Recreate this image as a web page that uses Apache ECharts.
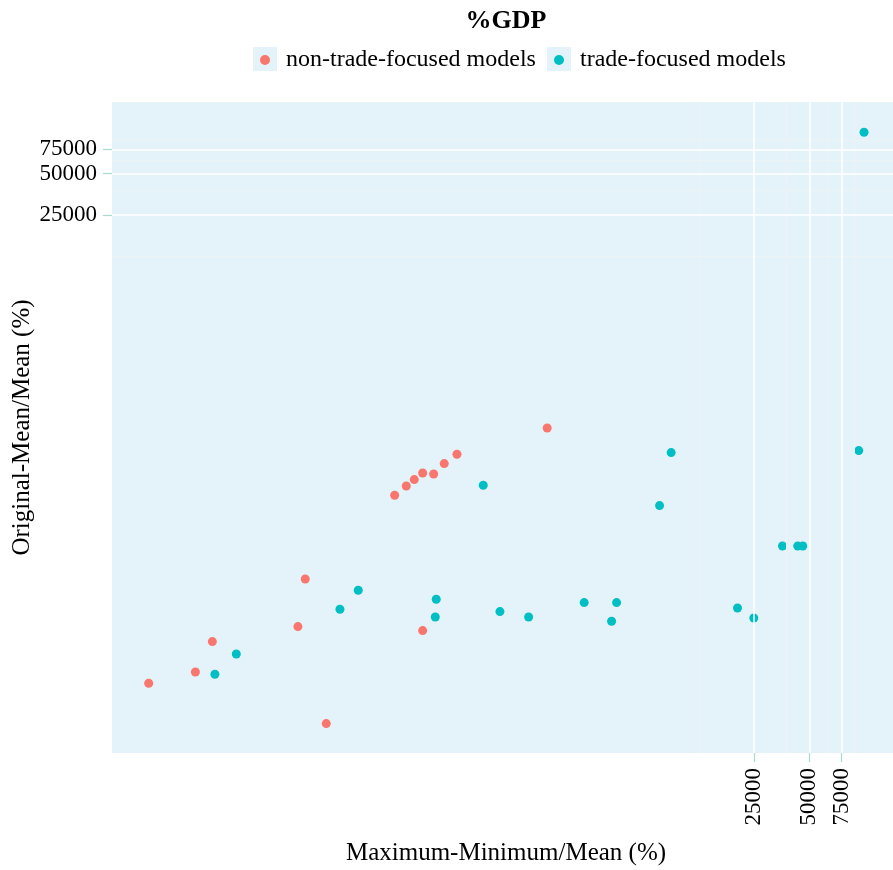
<!DOCTYPE html>
<html>
<head>
<meta charset="utf-8">
<title>%GDP</title>
<script src="https://cdn.jsdelivr.net/npm/echarts@6/dist/echarts.min.js"></script>
<style>
  html, body { margin: 0; padding: 0; background: #ffffff; }
  #chart { width: 893px; height: 870px; }
</style>
</head>
<body>
<div id="chart"></div>
<script>
// Series names
const seriesNames = ['non-trade-focused models', 'trade-focused models'];

// non-trade-focused models: x = (Maximum-Minimum)/Mean %, y = (Original-Mean)/Mean %
const nonTradeX = [12.4, 22.3, 27.6, 80.9, 88.7, 115.5, 272.9, 315.8, 349.2, 388.0, 445.5, 508.9, 597.1, 1856, 388.0];
const nonTradeY = [9.64, 11.65, 19.4, 24.96, 55.5, 4.90, 225.9, 264.1, 294.0, 328.5, 322.9, 384.6, 449.5, 698.8, 23.34];

// trade-focused models
const tradeX = [28.5, 37.3, 137.2, 172.7, 830.8, 460.3, 454.6, 1024.8, 1469.7, 2954, 4439, 4169, 7620, 8815, 20290, 24900, 35710, 43270, 46080, 93130, 99540];
const tradeY = [11.21, 15.76, 33.36, 45.9, 267.2, 39.47, 29.32, 32.10, 29.32, 37.34, 37.34, 27.28, 190.1, 462.5, 34.10, 28.83, 96.5, 96.5, 96.5, 478.3, 99800];

// Axis breaks (log-scaled axes) and in-between minor breaks
const majorBreaks = [25000, 50000, 75000];
const minorBreaks = [12500, 37500, 62500, 87500];

// Axis limits
const xLimits = [7.82, 156400];
const yLimits = [2.993, 165900];

const FONT = 'Liberation Serif';
const RED = '#F8766D';
const TEAL = '#00BFC4';
const PANEL = '#E4F3F9';
const TICK = '#A6DBCF';

const zip = (xs, ys) => xs.map((x, i) => [x, ys[i]]);

const minorStyle = { color: '#EDF2F4', width: 1, type: 'solid' };
const majorStyle = { color: '#FFFFFF', width: 1.5, type: 'solid' };
const gridLines = [];
minorBreaks.forEach(v => {
  gridLines.push({ xAxis: v, lineStyle: minorStyle });
  gridLines.push({ yAxis: v, lineStyle: minorStyle });
});
majorBreaks.forEach(v => {
  gridLines.push({ xAxis: v, lineStyle: majorStyle });
  gridLines.push({ yAxis: v, lineStyle: majorStyle });
});

const chart = echarts.init(document.getElementById('chart'), null, { renderer: 'canvas' });

const legendCommon = {
  orient: 'horizontal',
  top: 48,
  padding: 0,
  icon: 'circle',
  itemWidth: 10,
  itemHeight: 10,
  selectedMode: false,
  textStyle: { fontFamily: FONT, fontSize: 24, color: '#000000', padding: [0, 0, 0, 11] }
};

chart.setOption({
  animation: false,
  backgroundColor: '#FFFFFF',
  textStyle: { fontFamily: FONT },
  graphic: [
    { type: 'rect', left: 253, top: 47, shape: { width: 24, height: 24 }, style: { fill: PANEL }, z: 0 },
    { type: 'rect', left: 547, top: 47, shape: { width: 24, height: 24 }, style: { fill: PANEL }, z: 0 },
    {
      type: 'text', x: 506, y: 21,
      style: { text: '%GDP', fontFamily: FONT, fontSize: 26, fontWeight: 'bold', fill: '#000000', align: 'center', verticalAlign: 'middle' }
    }
  ],
  legend: [
    Object.assign({}, legendCommon, { left: 260, data: [seriesNames[0]] }),
    Object.assign({}, legendCommon, { left: 554, data: [seriesNames[1]] })
  ],
  grid: {
    left: 112, top: 102, right: -7, bottom: 117,
    show: true, backgroundColor: PANEL, borderWidth: 0,
    containLabel: false, outerBoundsMode: 'none'
  },
  xAxis: {
    type: 'log',
    min: xLimits[0], max: xLimits[1],
    name: 'Maximum-Minimum/Mean (%)',
    nameLocation: 'middle',
    nameGap: 88,
    nameMoveOverlap: false,
    nameTextStyle: { fontFamily: FONT, fontSize: 25, color: '#000000' },
    axisLine: { show: false },
    axisTick: { show: true, length: 9, customValues: majorBreaks, lineStyle: { color: TICK, width: 1.2 } },
    axisLabel: { show: true, customValues: majorBreaks, rotate: 90, margin: 15, fontFamily: FONT, fontSize: 23, color: '#000000', formatter: v => String(Math.round(v)) },
    splitLine: { show: false },
    minorSplitLine: { show: false }
  },
  yAxis: {
    type: 'log',
    min: yLimits[0], max: yLimits[1],
    name: 'Original-Mean/Mean (%)',
    nameLocation: 'middle',
    nameGap: 77,
    nameMoveOverlap: false,
    nameTextStyle: { fontFamily: FONT, fontSize: 25, color: '#000000' },
    axisLine: { show: false },
    axisTick: { show: true, length: 9, customValues: majorBreaks, lineStyle: { color: TICK, width: 1.2 } },
    axisLabel: { show: true, customValues: majorBreaks, margin: 15, fontFamily: FONT, fontSize: 23, color: '#000000', formatter: v => String(Math.round(v)) },
    splitLine: { show: false },
    minorSplitLine: { show: false }
  },
  series: [
    {
      name: 'panel-grid',
      type: 'scatter',
      data: [],
      z: 1,
      silent: true,
      markLine: {
        silent: true,
        symbol: ['none', 'none'],
        label: { show: false },
        emphasis: { disabled: true },
        animation: false,
        data: gridLines
      }
    },
    {
      name: seriesNames[0],
      type: 'scatter',
      z: 3,
      symbol: 'circle',
      symbolSize: 9,
      itemStyle: { color: RED, opacity: 1 },
      data: zip(nonTradeX, nonTradeY)
    },
    {
      name: seriesNames[1],
      type: 'scatter',
      z: 3,
      symbol: 'circle',
      symbolSize: 9,
      itemStyle: { color: TEAL, opacity: 1 },
      data: zip(tradeX, tradeY)
    }
  ]
});
</script>
</body>
</html>
